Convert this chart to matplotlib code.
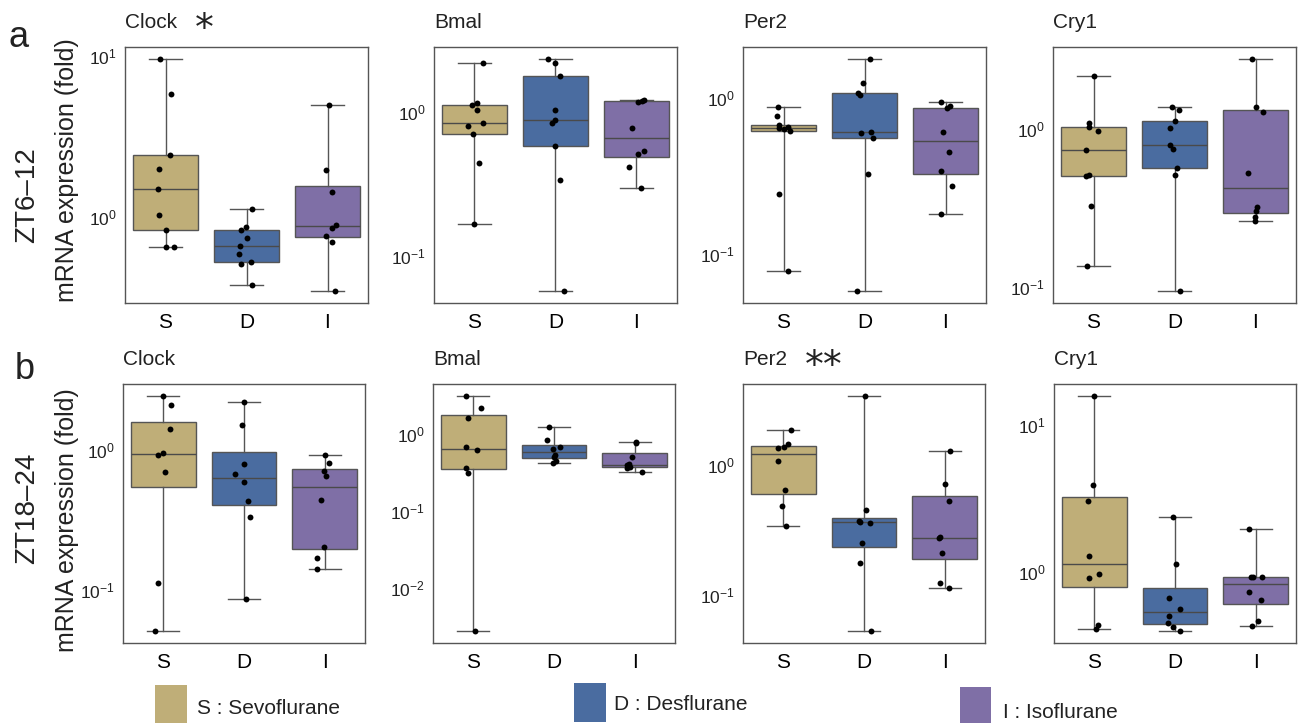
import numpy as np
import matplotlib
matplotlib.use("Agg")
import matplotlib.pyplot as plt
from matplotlib.ticker import LogLocator, LogFormatterSciNotation, NullLocator
from matplotlib.patches import Rectangle

plt.rcParams['font.family'] = ['Liberation Sans', 'DejaVu Sans']
plt.rcParams['mathtext.fontset'] = 'custom'
plt.rcParams['mathtext.rm'] = 'Liberation Sans'
plt.rcParams['mathtext.it'] = 'Liberation Sans:italic'
plt.rcParams['mathtext.bf'] = 'Liberation Sans:bold'

# ---------------- data ----------------
groups = ["S", "D", "I"]
genes = ["Clock", "Bmal", "Per2", "Cry1"]
row_names = ["ZT6\u201312", "ZT18\u201324"]
panel_letters = ["a", "b"]
sig_zt6 = ["*", "", "", ""]
sig_zt18 = ["", "", "**", ""]
legend_labels = ["S : Sevoflurane", "D : Desflurane", "I : Isoflurane"]
group_colors = ["#BFAE78", "#4A6CA0", "#7F6FA6"]

# ZT6-12, fold change per animal (S, D, I)
zt6_clock = [[9.67, 5.81, 2.44, 1.97, 1.48, 1.02, 0.822, 0.645, 0.645],
             [1.12, 0.861, 0.822, 0.741, 0.66, 0.589, 0.503, 0.52, 0.374],
             [4.98, 1.94, 1.42, 0.887, 0.85, 0.762, 0.695, 0.342]]
zt6_bmal = [[2.16, 1.10, 1.14, 1.03, 0.836, 0.79, 0.70, 0.44, 0.167],
            [2.32, 2.16, 1.75, 1.03, 0.87, 0.83, 0.574, 0.336, 0.057],
            [1.17, 1.18, 1.20, 0.768, 0.536, 0.508, 0.411, 0.298]]
zt6_per2 = [[0.867, 0.759, 0.668, 0.643, 0.652, 0.612, 0.63, 0.242, 0.077],
            [1.78, 1.25, 1.07, 1.04, 0.594, 0.604, 0.552, 0.323, 0.0574],
            [0.942, 0.855, 0.885, 0.603, 0.451, 0.341, 0.272, 0.18]]
zt6_cry1 = [[2.16, 1.09, 1.03, 0.966, 0.736, 0.507, 0.514, 0.324, 0.1355],
            [1.37, 1.32, 1.12, 1.01, 0.796, 0.748, 0.564, 0.509, 0.0938],
            [2.79, 1.37, 1.29, 0.53, 0.32, 0.301, 0.279, 0.263]]

# ZT18-24
zt18_clock = [[2.43, 2.09, 1.42, 0.916, 0.957, 0.693, 0.113, 0.0512],
              [2.2, 1.51, 0.794, 0.67, 0.588, 0.432, 0.334, 0.0862],
              [0.916, 0.812, 0.708, 0.656, 0.44, 0.204, 0.17, 0.143]]
zt18_bmal = [[3.13, 2.14, 1.62, 0.67, 0.618, 0.363, 0.307, 0.00272],
             [1.22, 0.828, 0.683, 0.631, 0.532, 0.497, 0.44, 0.422],
             [0.79, 0.756, 0.497, 0.41, 0.39, 0.375, 0.365, 0.32]]
zt18_per2 = [[1.86, 1.45, 1.38, 1.36, 1.07, 0.639, 0.486, 0.34],
             [3.4, 0.448, 0.371, 0.365, 0.36, 0.253, 0.177, 0.0528],
             [1.29, 0.71, 0.528, 0.278, 0.274, 0.21, 0.125, 0.113]]
zt18_cry1 = [[15.8, 3.88, 3.05, 1.29, 0.975, 0.906, 0.438, 0.411],
             [2.35, 1.13, 0.665, 0.562, 0.505, 0.452, 0.422, 0.396],
             [1.95, 0.93, 0.925, 0.92, 0.731, 0.649, 0.463, 0.428]]

# horizontal jitter of the individual points (category units)
jit_zt6_clock = [[-0.07, 0.07, 0.05, -0.08, -0.09, -0.08, 0.0, 0.01, 0.10],
                 [0.07, -0.01, -0.07, 0.0, -0.08, -0.09, -0.07, 0.05, 0.07],
                 [0.02, -0.02, 0.06, 0.10, 0.06, -0.02, 0.05, 0.09]]
jit_zt6_bmal = [[0.10, -0.03, 0.03, 0.03, 0.10, -0.08, -0.02, 0.06, 0.0],
                [-0.09, 0.0, 0.06, 0.0, -0.01, -0.04, 0.0, 0.06, 0.10],
                [0.02, 0.07, 0.09, -0.05, 0.09, 0.02, -0.09, 0.06]]
jit_zt6_per2 = [[-0.07, -0.08, -0.06, -0.05, 0.06, 0.08, 0.0, -0.06, 0.05],
                [0.07, -0.02, -0.08, -0.06, -0.04, 0.08, 0.11, 0.04, -0.09],
                [-0.05, 0.02, 0.06, -0.03, 0.04, -0.05, 0.08, -0.06]]
jit_zt6_cry1 = [[0.0, -0.05, -0.05, 0.06, -0.09, -0.09, -0.06, -0.03, -0.08],
                [-0.03, 0.06, 0.0, -0.05, -0.06, -0.02, 0.03, 0.0, 0.07],
                [-0.04, 0.0, 0.09, -0.09, 0.02, 0.0, -0.01, -0.01]]
jit_zt18_clock = [[0.0, 0.09, 0.08, -0.06, 0.0, 0.02, -0.06, -0.10],
                  [0.0, -0.03, 0.0, -0.11, 0.0, 0.05, 0.07, 0.03],
                  [0.01, 0.05, -0.01, 0.02, -0.04, -0.01, -0.10, -0.10]]
jit_zt18_bmal = [[-0.09, 0.09, -0.07, -0.09, 0.05, -0.09, -0.06, 0.02],
                 [-0.06, -0.09, 0.08, -0.01, 0.01, 0.0, 0.03, -0.01],
                 [0.02, 0.02, -0.03, -0.07, -0.10, -0.06, -0.09, 0.09]]
jit_zt18_per2 = [[0.10, 0.06, 0.01, -0.07, -0.06, 0.02, -0.02, 0.03],
                 [0.01, 0.02, -0.06, -0.05, 0.07, -0.02, -0.05, 0.09],
                 [0.06, 0.0, 0.05, -0.06, -0.07, -0.03, -0.06, 0.05]]
jit_zt18_cry1 = [[0.0, -0.02, -0.08, -0.07, 0.06, -0.06, 0.05, 0.02],
                 [-0.03, 0.01, -0.08, 0.06, -0.08, -0.09, -0.03, 0.06],
                 [-0.08, -0.06, -0.03, 0.08, -0.08, 0.06, 0.03, -0.04]]

rows = [
    dict(values=[zt6_clock, zt6_bmal, zt6_per2, zt6_cry1],
         jitter=[jit_zt6_clock, jit_zt6_bmal, jit_zt6_per2, jit_zt6_cry1],
         sig=sig_zt6),
    dict(values=[zt18_clock, zt18_bmal, zt18_per2, zt18_cry1],
         jitter=[jit_zt18_clock, jit_zt18_bmal, jit_zt18_per2, jit_zt18_cry1],
         sig=sig_zt18),
]

# ---------------- layout (pixels) ----------------
W, H = 1298, 726
fig = plt.figure(figsize=(W / 100, H / 100), dpi=100)

row_top = [47, 384]
row_height = [256, 259]
col_left = [[125, 434, 743, 1053], [123, 433, 743, 1054]]
col_width = [243, 242]

EDGE = "#555555"


def add_px_axes(left, top, width, height):
    return fig.add_axes([left / W, 1 - (top + height) / H, width / W, height / H])


def draw_panel(ax, values, offsets, title, sig):
    bp = ax.boxplot(values, positions=[1, 2, 3], widths=0.8, whis=(0, 100),
                    patch_artist=True, showfliers=False,
                    boxprops=dict(edgecolor=EDGE, linewidth=1.0),
                    medianprops=dict(color="#4a4a4a", linewidth=1.0),
                    whiskerprops=dict(color=EDGE, linewidth=1.0),
                    capprops=dict(color=EDGE, linewidth=1.0))
    for patch, c in zip(bp["boxes"], group_colors):
        patch.set_facecolor(c)
    for i, (vals, offs) in enumerate(zip(values, offsets)):
        xs = np.full(len(vals), i + 1.0) + np.asarray(offs)
        ax.scatter(xs, vals, s=18, color="black", linewidths=0, zorder=5)

    ax.set_yscale("log")
    allv = np.concatenate([np.asarray(v) for v in values])
    lo, hi = np.log10(allv.min()), np.log10(allv.max())
    pad = 0.05 * (hi - lo)
    ax.set_ylim(10 ** (lo - pad), 10 ** (hi + pad))
    ax.set_xlim(0.5, 3.5)
    ax.yaxis.set_major_locator(LogLocator(base=10, numticks=12))
    ax.yaxis.set_major_formatter(LogFormatterSciNotation())
    ax.yaxis.set_minor_locator(NullLocator())
    ax.set_xticks([1, 2, 3])
    ax.set_xticklabels(groups)
    ax.tick_params(axis="x", length=0, pad=7, labelsize=15)
    ax.tick_params(axis="y", length=0, pad=6, labelsize=12.5, labelcolor="#222222")
    for s in ax.spines.values():
        s.set_color(EDGE)
        s.set_linewidth(1.0)
    t = ax.set_title(title, loc="left", fontsize=15, pad=14, color="#222222")
    if sig:
        ax.annotate(sig, xy=(1, 0.5), xycoords=t, xytext=(13, -6),
                    textcoords="offset points", ha="left", va="center",
                    fontsize=27, family="DejaVu Sans", color="#222222")


for r, row in enumerate(rows):
    for c in range(4):
        ax = add_px_axes(col_left[r][c], row_top[r], col_width[r], row_height[r])
        draw_panel(ax, row["values"][c], row["jitter"][c], genes[c], row["sig"][c])

# row annotations
ylab_center = [170, 520]
zt_center = [195, 508]
letter_base = [(9, 47), (15, 379)]
for r in range(2):
    fig.text(67 / W, 1 - ylab_center[r] / H, "mRNA expression (fold)", rotation=90,
             ha="center", va="center", fontsize=18, color="#222222")
    fig.text(27 / W, 1 - zt_center[r] / H, row_names[r], rotation=90,
             ha="center", va="center", fontsize=20, color="#222222")
    fig.text(letter_base[r][0] / W, 1 - letter_base[r][1] / H, panel_letters[r],
             ha="left", va="baseline", fontsize=26, color="#222222")

# legend
legend_boxes = [(155, 685, 32, 38), (574, 683, 32, 39), (960, 687, 31, 36)]
legend_text = [(197, 709), (614, 705), (1003, 712)]
for (x, y, w, h), (tx, ty), lab, col in zip(legend_boxes, legend_text, legend_labels, group_colors):
    fig.patches.append(Rectangle((x / W, 1 - (y + h) / H), w / W, h / H,
                                 transform=fig.transFigure, facecolor=col, edgecolor="none"))
    fig.text(tx / W, 1 - ty / H, lab, ha="left", va="center", fontsize=15, color="#222222")

fig.savefig("out.png", dpi=100)
